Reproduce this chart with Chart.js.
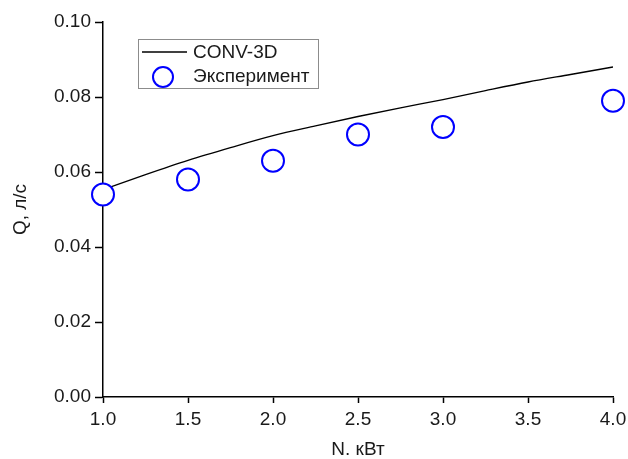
<!DOCTYPE html>
<html lang="ru">
<head>
    <meta charset="UTF-8">
    <title>Q(N)</title>
    <script src="https://cdn.jsdelivr.net/npm/chart.js"></script>
    <style>
        html, body { margin: 0; padding: 0; background: #fff; }
        #wrap { width: 628px; height: 459px; }
    </style>
</head>
<body>
    <div id="wrap"><canvas id="qChart" width="628" height="459"></canvas></div>

    <script>
        // Расчёт CONV-3D
        const modelN = [1.0, 1.25, 1.5, 1.75, 2.0, 2.25, 2.5, 2.75, 3.0, 3.25, 3.5, 3.75, 4.0];
        const modelQ = [0.0553, 0.0593, 0.0631, 0.0665, 0.0697, 0.0723, 0.0748, 0.0771, 0.0793, 0.0817, 0.0840, 0.0860, 0.0880];

        // Эксперимент
        const expN = [1.0, 1.5, 2.0, 2.5, 3.0, 4.0];
        const expQ = [0.054, 0.058, 0.063, 0.070, 0.072, 0.079];

        const xTicks = [1.0, 1.5, 2.0, 2.5, 3.0, 3.5, 4.0];
        const yTicks = [0.00, 0.02, 0.04, 0.06, 0.08, 0.10];

        const FONT = 'Liberation Sans, Arial, sans-serif';
        const TXT = '#1a1a1a';

        // legend drawn inside the plot area, like in the original figure
        const boxLegend = {
            id: 'boxLegend',
            afterDraw(chart) {
                const ctx = chart.ctx;
                const a = chart.chartArea;
                const x0 = a.left + 35, y0 = a.top + 17;
                const w = 180, h = 49;
                ctx.save();
                ctx.fillStyle = '#fff';
                ctx.fillRect(x0, y0, w, h);
                ctx.strokeStyle = '#8c8c8c';
                ctx.lineWidth = 1;
                ctx.strokeRect(x0 + 0.5, y0 + 0.5, w, h);

                const lineDs = chart.data.datasets[0];
                const ptDs = chart.data.datasets[1];

                ctx.strokeStyle = lineDs.borderColor;
                ctx.lineWidth = lineDs.borderWidth;
                ctx.beginPath();
                ctx.moveTo(x0 + 4, y0 + 13);
                ctx.lineTo(x0 + 49, y0 + 13);
                ctx.stroke();

                ctx.strokeStyle = ptDs.borderColor;
                ctx.lineWidth = ptDs.borderWidth;
                ctx.beginPath();
                ctx.arc(x0 + 25, y0 + 38, 10, 0, Math.PI * 2);
                ctx.stroke();

                ctx.fillStyle = TXT;
                ctx.font = '19px ' + FONT;
                ctx.textBaseline = 'middle';
                ctx.fillText(lineDs.label, x0 + 55, y0 + 14);
                ctx.fillText(ptDs.label, x0 + 55, y0 + 38);
                ctx.restore();
            }
        };

        window.onload = function() {
            const ctx = document.getElementById('qChart').getContext('2d');
            new Chart(ctx, {
                type: 'scatter',
                data: {
                    datasets: [
                        {
                            type: 'line',
                            label: 'CONV-3D',
                            data: modelN.map((n, i) => ({ x: n, y: modelQ[i] })),
                            borderColor: '#000',
                            borderWidth: 1.3,
                            pointRadius: 0,
                            cubicInterpolationMode: 'monotone',
                            fill: false,
                            order: 1
                        },
                        {
                            label: 'Эксперимент',
                            data: expN.map((n, i) => ({ x: n, y: expQ[i] })),
                            borderColor: '#0000ff',
                            backgroundColor: '#fff',
                            borderWidth: 2,
                            pointRadius: 11,
                            showLine: false,
                            clip: false,
                            order: 0
                        }
                    ]
                },
                plugins: [boxLegend],
                options: {
                    responsive: false,
                    animation: false,
                    layout: { padding: { top: 22, right: 15, bottom: 0, left: 0 } },
                    plugins: {
                        legend: { display: false },
                        tooltip: { enabled: false }
                    },
                    scales: {
                        x: {
                            type: 'linear',
                            min: 1, max: 4,
                            afterBuildTicks: s => { s.ticks = xTicks.map(v => ({ value: v })); },
                            afterFit: s => { s.height = 62; s.paddingLeft = 0; s.paddingRight = 0; },
                            grid: { drawOnChartArea: false, tickLength: 6, tickColor: '#000', tickWidth: 1.5 },
                            border: { color: '#000', width: 1.5 },
                            ticks: {
                                color: TXT, padding: 5, maxRotation: 0,
                                font: { family: FONT, size: 19 },
                                callback: v => Number(v).toFixed(1)
                            },
                            title: {
                                display: true, text: 'N. кВт', color: TXT,
                                font: { family: FONT, size: 19 },
                                padding: { top: 0, bottom: -2 }
                            }
                        },
                        y: {
                            min: 0, max: 0.1,
                            afterBuildTicks: s => { s.ticks = yTicks.map(v => ({ value: v })); },
                            afterFit: s => { s.width = 103; },
                            grid: { drawOnChartArea: false, tickLength: 8, tickColor: '#000', tickWidth: 1.5 },
                            border: { color: '#000', width: 1.5 },
                            ticks: {
                                color: TXT, padding: 4,
                                font: { family: FONT, size: 19 },
                                callback: v => Number(v).toFixed(2)
                            },
                            title: {
                                display: true, text: 'Q, л/с', color: TXT,
                                font: { family: FONT, size: 19 },
                                padding: { top: 9, bottom: 0 }
                            }
                        }
                    }
                }
            });
        };
    </script>
</body>
</html>
